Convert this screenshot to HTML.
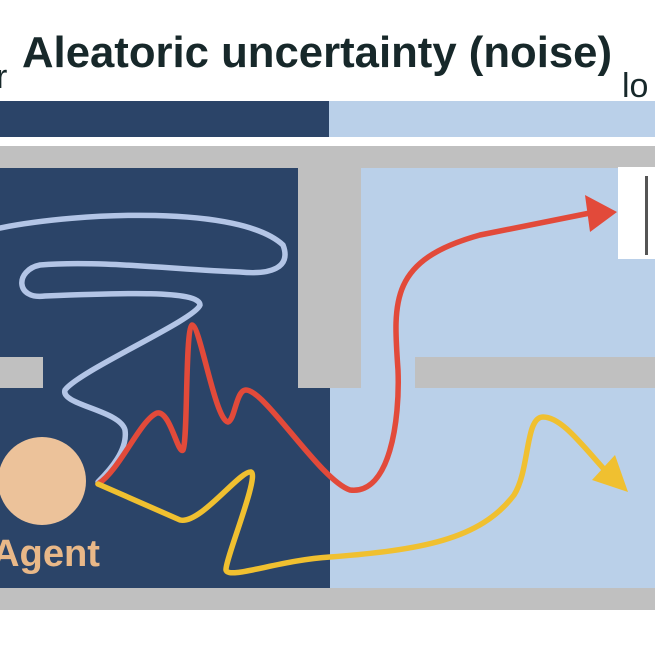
<!DOCTYPE html>
<html><head><meta charset="utf-8"><style>html,body{margin:0;padding:0;background:#fff}svg{display:block}</style></head>
<body>
<svg width="655" height="655" viewBox="0 0 655 655" xmlns="http://www.w3.org/2000/svg">
<rect width="655" height="655" fill="#fff"/>
<text x="22" y="67" font-family="Liberation Sans, sans-serif" font-weight="bold" font-size="44" fill="#17282a" textLength="590" lengthAdjust="spacingAndGlyphs">Aleatoric uncertainty (noise)</text>
<text x="-4" y="88" font-family="Liberation Sans, sans-serif" font-size="34" fill="#17282a">r</text>
<text x="622" y="97" font-family="Liberation Sans, sans-serif" font-size="34" fill="#17282a">lo</text>
<rect x="0" y="101" width="329" height="36" fill="#2b4468"/>
<rect x="329" y="101" width="326" height="36" fill="#bad0e9"/>
<rect x="0" y="146" width="655" height="464" fill="#c0c0c0"/>
<rect x="0" y="168" width="298" height="420" fill="#2b4468"/>
<rect x="0" y="388" width="330" height="200" fill="#2b4468"/>
<rect x="361" y="168" width="294" height="420" fill="#bad0e9"/>
<rect x="330" y="388" width="40" height="200" fill="#bad0e9"/>
<rect x="0" y="357" width="43" height="31" fill="#c0c0c0"/>
<rect x="415" y="357" width="240" height="31" fill="#c0c0c0"/>
<rect x="618" y="167" width="37" height="92" fill="#fff"/>
<rect x="645" y="176" width="3" height="79" fill="#555"/>
<circle cx="42" cy="481" r="44" fill="#ecc29a"/>
<text x="-8" y="566" font-family="Liberation Sans, sans-serif" font-weight="bold" font-size="38" fill="#e9b888" textLength="108" lengthAdjust="spacingAndGlyphs">Agent</text>
<g fill="none" stroke-width="5.5" stroke-linecap="round" stroke-linejoin="round">
<path d="M0,228 C80,212 240,205 283,245 C292,268 270,275 240,272 C180,270 100,260 40,265 C15,270 15,300 45,296 C120,293 200,290 200,305 C195,320 80,370 65,390 C60,405 120,410 125,430 C128,450 110,470 98,482" stroke="#b3c5e6"/>
<path d="M98,484 C120,470 140,420 157,413 C170,410 178,455 183,450 C188,440 185,330 192,325 C200,325 215,420 228,422 C235,420 236,390 246,390 C265,390 320,480 350,490 C390,495 400,420 398,370 C393,300 390,260 480,235 L590,213" stroke="#e24a3a"/>
<path d="M98,484 L180,520 C200,525 240,470 251,472 C260,475 225,560 226,570 C228,580 280,560 330,557 C420,550 480,540 514,495 C530,470 525,417 543,417 C560,417 578,440 603,468" stroke="#f0c030"/>
</g>
<polygon points="617,212 585,195 590,232" fill="#e24a3a"/>
<polygon points="628,492 592,480 615,455" fill="#f0c030"/>
</svg>
</body></html>
